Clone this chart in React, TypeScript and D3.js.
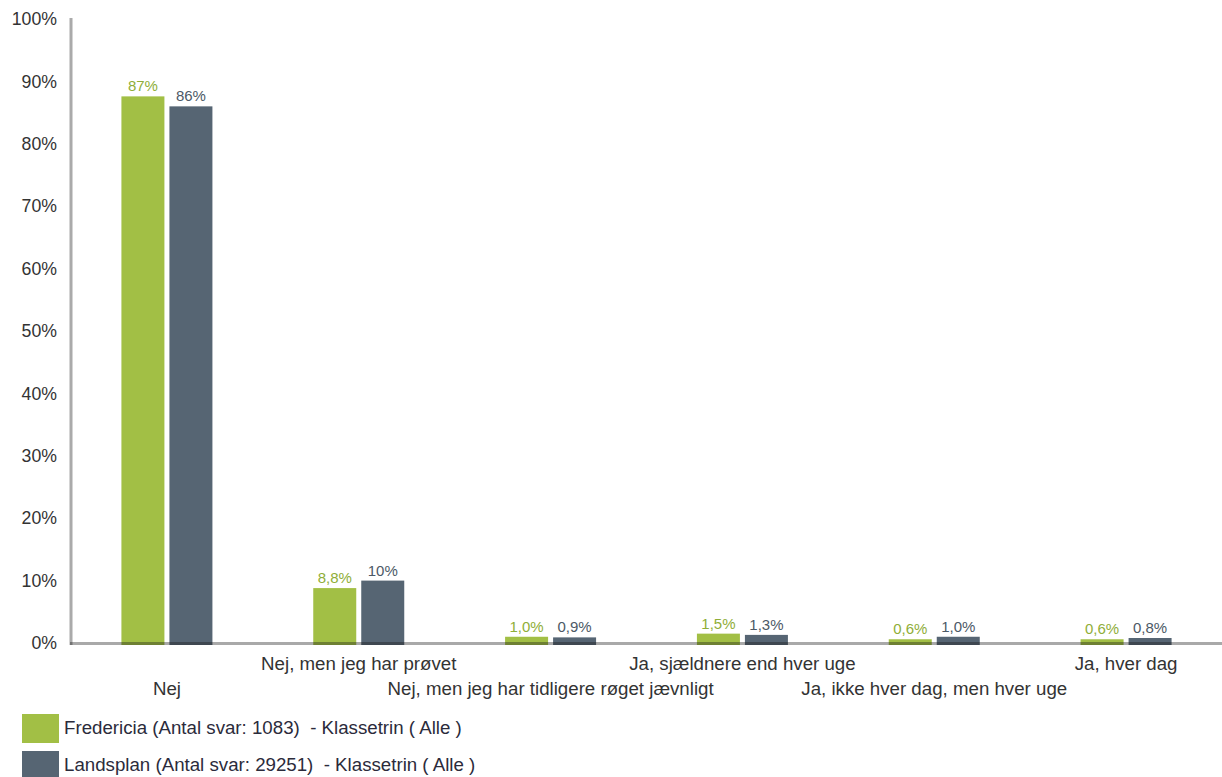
import React from "react";
import * as d3 from "d3";

const categories = [
  "Nej",
  "Nej, men jeg har prøvet",
  "Nej, men jeg har tidligere røget jævnligt",
  "Ja, sjældnere end hver uge",
  "Ja, ikke hver dag, men hver uge",
  "Ja, hver dag",
];
const fredericia = [87.6, 8.8, 1.0, 1.5, 0.6, 0.6];
const fredericiaLabels = ["87%", "8,8%", "1,0%", "1,5%", "0,6%", "0,6%"];
const landsplan = [86.0, 10.0, 0.9, 1.3, 1.0, 0.8];
const landsplanLabels = ["86%", "10%", "0,9%", "1,3%", "1,0%", "0,8%"];
const yTicks = [0, 10, 20, 30, 40, 50, 60, 70, 80, 90, 100];
const seriesNames = [
  "Fredericia (Antal svar: 1083)  - Klassetrin ( Alle )",
  "Landsplan (Antal svar: 29251)  - Klassetrin ( Alle )",
];

const GREEN = "#a2bf45";
const SLATE = "#566573";
const FONT = "'Liberation Sans', Arial, sans-serif";

export default function App() {
  const W = 1222, H = 777;
  const left = 71, right = 1222, top = 19, bottom = 643;
  const x = d3.scaleBand<string>().domain(categories).range([left, right]);
  const y = d3.scaleLinear().domain([0, 100]).range([bottom, top]);
  const barW = 43, gap = 5;
  const series = [
    { values: fredericia, labels: fredericiaLabels, color: GREEN, text: "#8fae38", off: -gap / 2 - barW },
    { values: landsplan, labels: landsplanLabels, color: SLATE, text: "#4c5966", off: gap / 2 },
  ];
  return (
    <svg width={W} height={H} style={{ position: "absolute", left: 0, top: 0, fontFamily: FONT }}>
      <rect width={W} height={H} fill="#fff" />
      {yTicks.map((t) => (
        <text key={t} x={57} y={y(t)} dy="0.35em" textAnchor="end" fontSize={17.7} fill="#333">
          {t}%
        </text>
      ))}
      <line x1={71} x2={71} y1={top - 1} y2={bottom + 2} stroke="#aaa" strokeWidth={3} />
      {series.map((s, si) =>
        categories.map((c, i) => {
          const cx = x(c)! + x.bandwidth() / 2;
          const bx = cx + s.off;
          const by = y(s.values[i]);
          return (
            <g key={`${si}-${i}`}>
              <rect x={bx} y={by} width={barW} height={bottom + 2 - by} fill={s.color} />
              <text x={bx + barW / 2} y={by - 5} textAnchor="middle" fontSize={15} fill={s.text}>
                {s.labels[i]}
              </text>
            </g>
          );
        })
      )}
      <line x1={70} x2={right} y1={bottom + 0.5} y2={bottom + 0.5} stroke="rgb(23,23,23)" strokeOpacity={0.37} strokeWidth={3} />
      {categories.map((c, i) => (
        <text
          key={c}
          x={x(c)! + x.bandwidth() / 2}
          y={i % 2 === 0 ? 695 : 670}
          textAnchor="middle"
          fontSize={18.7}
          fill="#333"
        >
          {c}
        </text>
      ))}
      {seriesNames.map((n, i) => (
        <g key={n}>
          <rect x={22} y={714 + i * 37} width={37} height={29} fill={i === 0 ? GREEN : SLATE} />
          <text x={64} y={733.5 + i * 37} fontSize={18.7} fill="#2b2b3b" style={{ whiteSpace: "pre" }}>
            {n}
          </text>
        </g>
      ))}
    </svg>
  );
}
